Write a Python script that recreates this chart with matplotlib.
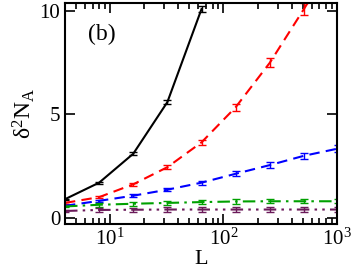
import matplotlib
matplotlib.use("Agg")
import matplotlib.pyplot as plt
import numpy as np

plt.rcParams['font.family'] = ['Liberation Serif', 'DejaVu Serif']
plt.rcParams['mathtext.fontset'] = 'custom'
plt.rcParams['mathtext.rm'] = 'Liberation Serif'
plt.rcParams['mathtext.it'] = 'Liberation Serif:italic'

# system sizes
L = [4, 8, 16, 32, 64, 128, 256, 512, 1024]

# variance curves
black_L = [4, 8, 16, 32, 64]
black_y = [0.9, 1.7, 3.1, 5.6, 10.1]
black_err = [0.03, 0.05, 0.07, 0.1, 0.15]

red_y = [0.72, 1.0, 1.62, 2.45, 3.65, 5.35, 7.5, 10.1, 12.8]
red_err = [0.03, 0.05, 0.07, 0.1, 0.12, 0.18, 0.22, 0.28, 0.3]

blue_y = [0.58, 0.82, 1.07, 1.36, 1.7, 2.13, 2.55, 3.0, 3.35]
blue_err = [0.03, 0.05, 0.07, 0.08, 0.1, 0.12, 0.13, 0.15, 0.15]

green_y = [0.55, 0.63, 0.68, 0.72, 0.76, 0.79, 0.8, 0.8, 0.8]
green_err = [0.03, 0.1, 0.1, 0.1, 0.1, 0.1, 0.1, 0.1, 0.1]

purple_y = [0.33, 0.38, 0.39, 0.4, 0.4, 0.4, 0.4, 0.4, 0.4]
purple_err = [0.03, 0.1, 0.1, 0.1, 0.1, 0.1, 0.1, 0.1, 0.1]

fig = plt.figure(figsize=(3.54, 2.73), dpi=100)
ax = fig.add_axes([0.1836, 0.1795, 0.768, 0.81])

kw = dict(capsize=3, elinewidth=1.0, capthick=1.0, lw=1.5)
ax.errorbar(black_L, black_y, yerr=black_err, color='black', ls='-', **kw)
ax.errorbar(L, red_y, yerr=red_err, color='#ff0000', dashes=(5, 3), **kw)
ax.errorbar(L, blue_y, yerr=blue_err, color='#0000ff', dashes=(5, 3), **kw)
ax.errorbar(L, green_y, yerr=green_err, color='#00a000', dashes=(6, 2.5, 1.2, 2.5), **kw)
ax.errorbar(L, purple_y, yerr=purple_err, color='#6b1a5a',
            dashes=(6, 2.5, 1.2, 2.5, 1.2, 2.5), **kw)

ax.set_xscale('log')
ax.set_xlim(4, 1000)
ax.set_ylim(-0.3, 10.4)
ax.set_yticks([0, 5, 10])

ax.tick_params(which='both', direction='in', top=True, right=True, labelsize=15, width=1.2)
ax.tick_params(which='major', length=7)
ax.tick_params(which='minor', length=4)
for s in ax.spines.values():
    s.set_linewidth(1.5)

ax.set_xlabel('L', fontsize=16, labelpad=0)
ax.set_ylabel(r'$\mathrm{δ}^2\mathrm{N}_\mathrm{A}$', fontsize=17, labelpad=2)
ax.text(0.085, 0.83, '(b)', transform=ax.transAxes, fontsize=17)

fig.savefig('out.png', dpi=100)
